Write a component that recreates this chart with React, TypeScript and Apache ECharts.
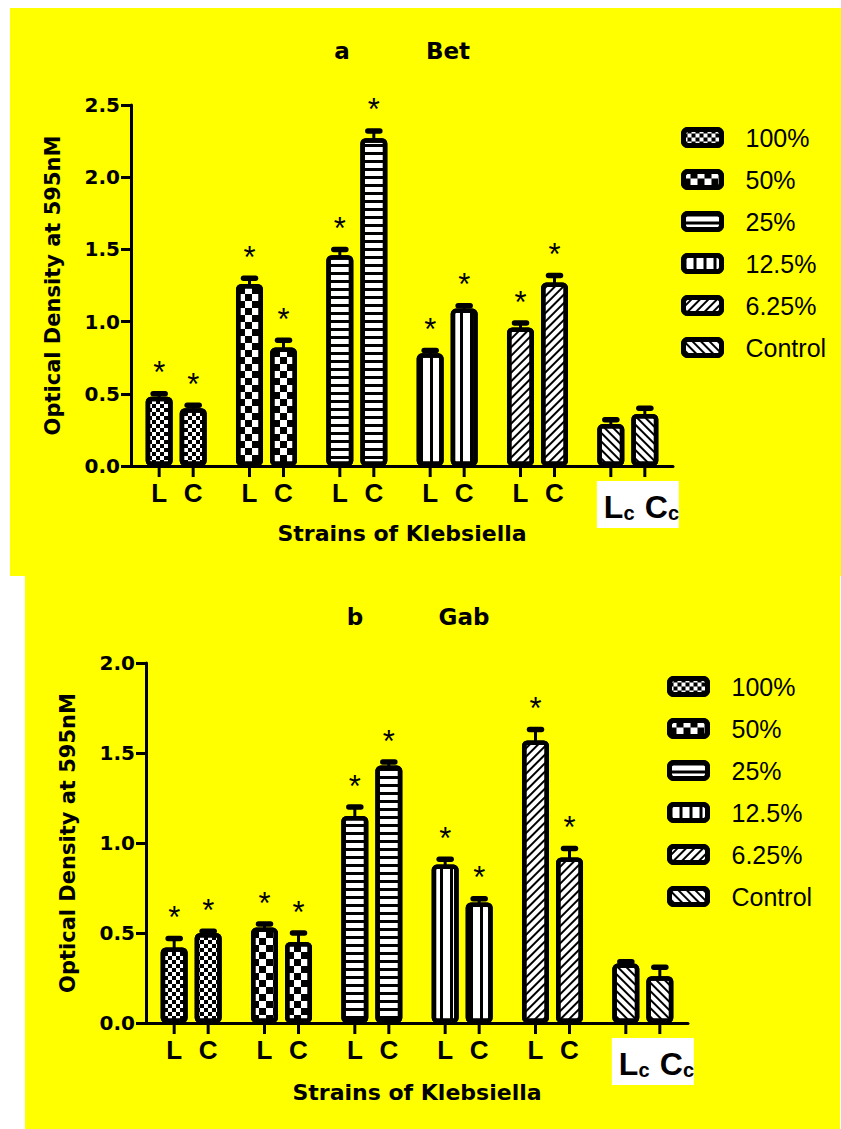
import React, { useEffect, useRef } from "react";
import * as echarts from "echarts";

// ---------- data ----------
const groups = ["100%", "50%", "25%", "12.5%", "6.25%", "Control"];
const strainLabels = ["L", "C"];
const controlSub = "c";
const controlIndex = 5;

const betL = [0.48, 1.26, 1.46, 0.78, 0.96, 0.29];
const betLErr = [0.02, 0.04, 0.04, 0.02, 0.03, 0.03];
const betC = [0.4, 0.82, 2.27, 1.09, 1.27, 0.36];
const betCErr = [0.02, 0.05, 0.05, 0.02, 0.05, 0.04];

const gabL = [0.42, 0.53, 1.15, 0.88, 1.57, 0.33];
const gabLErr = [0.05, 0.02, 0.05, 0.03, 0.06, 0.01];
const gabC = [0.5, 0.45, 1.43, 0.67, 0.92, 0.26];
const gabCErr = [0.01, 0.05, 0.02, 0.02, 0.05, 0.05];

const significant = [1, 1, 1, 1, 1, 0];

const yMaxBet = 2.5;
const yMaxGab = 2.0;
const yStep = 0.5;

const panelTitles = [
  ["a", "Bet"],
  ["b", "Gab"],
];
const yAxisTitle = "Optical Density at 595nM";
const xAxisTitle = "Strains of Klebsiella";

// ---------- styles ----------
const BOLD_T = "DejaVu Sans";
const ARIAL = "Liberation Sans";
const HALF = 17; // half distance between L and C bar centres (px)

const decals: any[] = [
  { symbol: "rect", symbolSize: 1, symbolKeepAspect: false, color: "#000", dashArrayX: [[4, 4], [0, 4, 4, 0]], dashArrayY: [4, 0] },
  { symbol: "rect", symbolSize: 1, symbolKeepAspect: false, color: "#000", dashArrayX: [[7, 7], [0, 7, 7, 0]], dashArrayY: [7, 0] },
  { symbol: "rect", symbolSize: 1, symbolKeepAspect: false, color: "#000", dashArrayX: [1, 0], dashArrayY: [2.5, 4.5] },
  { symbol: "rect", symbolSize: 1, symbolKeepAspect: false, color: "#000", dashArrayX: [2.5, 7], dashArrayY: [1, 0] },
  { symbol: "rect", symbolSize: 1, symbolKeepAspect: false, color: "#000", dashArrayX: [1, 0], dashArrayY: [2, 3.5], rotation: -Math.PI / 4 },
  { symbol: "rect", symbolSize: 1, symbolKeepAspect: false, color: "#000", dashArrayX: [1, 0], dashArrayY: [2, 4], rotation: Math.PI / 4 },
];

function barStyle(k: number) {
  return { color: "#fff", borderColor: "#000", borderWidth: 4.5, borderRadius: 3, decal: decals[k] };
}

function barSeriesFor(panel: number, lVals: number[], cVals: number[]) {
  const out: any[] = [];
  groups.forEach((g, k) => {
    [lVals, cVals].forEach((vals, side) => {
      out.push({
        type: "bar",
        name: g,
        xAxisIndex: panel,
        yAxisIndex: panel,
        stack: "p" + panel + "s" + side,
        barWidth: 27,
        barGap: "26%",
        itemStyle: barStyle(k),
        emphasis: { disabled: true },
        data: groups.map((_, i) => (i === k ? vals[k] : "-")),
      });
    });
  });
  return out;
}

function errorSeries(panel: number, lVals: number[], lErr: number[], cVals: number[], cErr: number[]) {
  const data: number[][] = [];
  groups.forEach((_, i) => {
    data.push([i, 0, lVals[i], lErr[i], significant[i]]);
    data.push([i, 1, cVals[i], cErr[i], significant[i]]);
  });
  return {
    type: "custom",
    name: "err" + panel,
    xAxisIndex: panel,
    yAxisIndex: panel,
    encode: { x: 0, y: 2 },
    silent: true,
    data,
    renderItem: (params: any, api: any) => {
      const i = api.value(0);
      const side = api.value(1);
      const v = api.value(2);
      const e = api.value(3);
      const sig = api.value(4);
      const pTop = api.coord([i, v]);
      const pCap = api.coord([i, v + e]);
      const x = pTop[0] + (side ? HALF : -HALF);
      const children: any[] = [
        { type: "line", shape: { x1: x, y1: pTop[1] + 2, x2: x, y2: pCap[1] }, style: { stroke: "#000", lineWidth: 3 } },
        { type: "line", shape: { x1: x - 6, y1: pCap[1], x2: x + 6, y2: pCap[1] }, style: { stroke: "#000", lineWidth: 5.5, lineCap: "round" } },
      ];
      if (sig) {
        children.push({
          type: "text",
          x,
          y: pCap[1] - 21,
          style: { text: "*", font: `31px "${ARIAL}"`, fill: "#000", align: "center", verticalAlign: "middle" },
        });
      }
      return { type: "group", children };
    },
  };
}

function tickSeries(panel: number) {
  const data: number[][] = [];
  groups.forEach((_, i) => {
    data.push([i, 0, 0]);
    data.push([i, 1, 0]);
  });
  return {
    type: "custom",
    name: "ticks" + panel,
    xAxisIndex: panel,
    yAxisIndex: panel,
    encode: { x: 0, y: 2 },
    silent: true,
    data,
    renderItem: (params: any, api: any) => {
      const i = api.value(0);
      const side = api.value(1);
      const base = api.coord([i, 0]);
      const x = base[0] + (side ? HALF : -HALF);
      const y = base[1];
      const children: any[] = [
        { type: "line", shape: { x1: x, y1: y, x2: x, y2: y + 11 }, style: { stroke: "#000", lineWidth: 3 } },
      ];
      const label = strainLabels[side];
      if (i === controlIndex) {
        if (side === 0) {
          children.push({ type: "rect", shape: { x: x - 14, y: y + 15, width: 82, height: 47 }, style: { fill: "#fff" } });
        }
        children.push({
          type: "text",
          x: x + (side ? 0 : -7),
          y: y + 57,
          style: {
            text: `{m|${label}}{s|${controlSub}}`,
            align: "left",
            verticalAlign: "bottom",
            fill: "#000",
            rich: {
              m: { fontFamily: `"Liberation Sans Narrow", "${ARIAL}"`, fontWeight: "bold", fontSize: 32, lineHeight: 32, verticalAlign: "bottom", fill: "#000" },
              s: { fontFamily: `"Liberation Sans Narrow", "${ARIAL}"`, fontWeight: "bold", fontSize: 20, lineHeight: 23, verticalAlign: "bottom", fill: "#000" },
            },
          },
        });
      } else {
        children.push({
          type: "text",
          x,
          y: y + 27,
          style: { text: label, font: `bold 26px "${ARIAL}"`, fill: "#000", align: "center", verticalAlign: "middle" },
        });
      }
      return { type: "group", children };
    },
  };
}

function yAxisFor(panel: number, max: number, gap: number) {
  return {
    type: "value",
    gridIndex: panel,
    min: 0,
    max,
    interval: yStep,
    axisLine: { show: true, lineStyle: { color: "#000", width: 3 } },
    axisTick: { show: true, length: 10, lineStyle: { color: "#000", width: 3 } },
    axisLabel: { formatter: (v: number) => v.toFixed(1), fontFamily: BOLD_T, fontWeight: "bold", fontSize: 20, color: "#000", margin: 11 },
    splitLine: { show: false },
    name: yAxisTitle,
    nameLocation: "middle",
    nameGap: gap,
    nameMoveOverlap: false,
    nameTextStyle: { fontFamily: BOLD_T, fontWeight: "bold", fontSize: 21, color: "#000" },
  };
}

function xAxisFor(panel: number, gap: number) {
  return {
    type: "category",
    gridIndex: panel,
    data: groups,
    axisLine: { show: true, lineStyle: { color: "#000", width: 3 } },
    axisTick: { show: false },
    axisLabel: { show: false },
    splitLine: { show: false },
    name: xAxisTitle,
    nameLocation: "middle",
    nameGap: gap,
    nameMoveOverlap: false,
    nameTextStyle: { fontFamily: BOLD_T, fontWeight: "bold", fontSize: 22, color: "#000" },
  };
}

function legendFor(left: number, top: number) {
  return {
    data: groups,
    orient: "vertical",
    left,
    top,
    padding: 0,
    itemWidth: 38,
    itemHeight: 16,
    itemGap: 17,
    icon: "roundRect",
    selectedMode: false,
    itemStyle: { borderColor: "#000", borderWidth: 5 },
    textStyle: { fontFamily: ARIAL, fontSize: 25, color: "#000", lineHeight: 25, padding: [0, 0, 0, 19] },
  };
}

function titleText(text: string, x: number, y: number) {
  return {
    type: "text",
    x,
    y,
    z: 5,
    style: { text, font: `bold 23px "${BOLD_T}"`, fill: "#000", align: "center", verticalAlign: "middle" },
  };
}

export default function App() {
  const ref = useRef<HTMLDivElement>(null);
  useEffect(() => {
    if (!ref.current) return;
    const chart = echarts.init(ref.current, null, { renderer: "svg" });
    const option: any = {
      animation: false,
      backgroundColor: "#fff",
      graphic: [
        { type: "rect", z: -10, shape: { x: 10, y: 8, width: 831, height: 568 }, style: { fill: "#ffff00" }, silent: true },
        { type: "rect", z: -10, shape: { x: 25, y: 576, width: 815, height: 553 }, style: { fill: "#ffff00" }, silent: true },
        titleText(panelTitles[0][0], 342, 51),
        titleText(panelTitles[0][1], 448, 51),
        titleText(panelTitles[1][0], 355, 617),
        titleText(panelTitles[1][1], 464, 617),
      ],
      grid: [
        { left: 131, top: 105, width: 542, height: 361, outerBoundsMode: "none" },
        { left: 146, top: 663, width: 542, height: 360, outerBoundsMode: "none" },
      ],
      xAxis: [xAxisFor(0, 56), xAxisFor(1, 58)],
      yAxis: [yAxisFor(0, yMaxBet, 68), yAxisFor(1, yMaxGab, 68)],
      legend: [legendFor(681, 125), legendFor(667, 674)],
      tooltip: { show: false },
      series: [
        ...barSeriesFor(0, betL, betC),
        ...barSeriesFor(1, gabL, gabC),
        errorSeries(0, betL, betLErr, betC, betCErr),
        errorSeries(1, gabL, gabLErr, gabC, gabCErr),
        tickSeries(0),
        tickSeries(1),
      ],
    };
    chart.setOption(option);
    return () => chart.dispose();
  }, []);
  return (
    <div style={{ position: "absolute", left: 0, top: 0, width: 841, height: 1129, background: "#fff" }}>
      <div ref={ref} style={{ width: 841, height: 1129 }} />
    </div>
  );
}
